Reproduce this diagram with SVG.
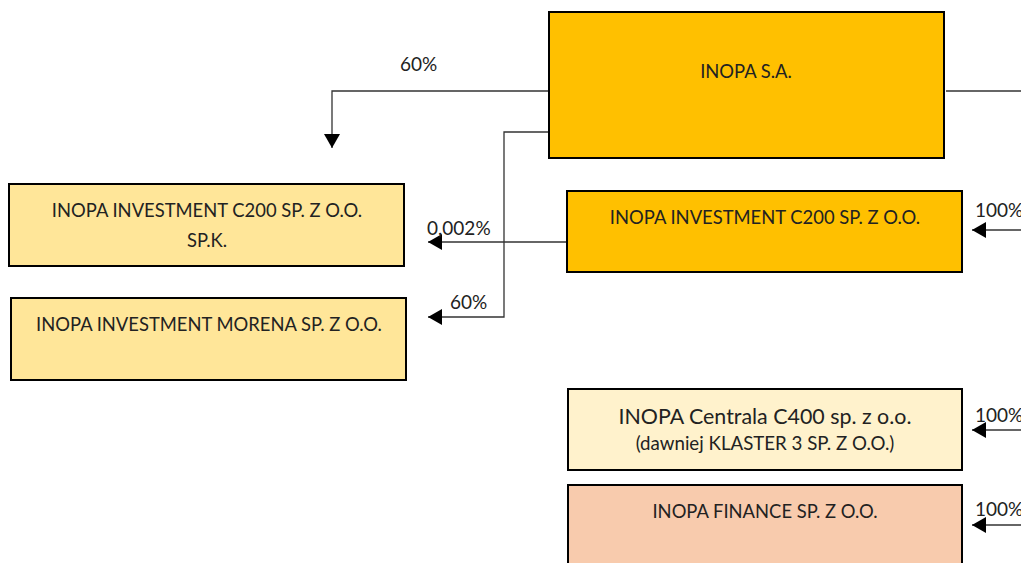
<svg xmlns="http://www.w3.org/2000/svg" width="1021" height="563" viewBox="0 0 1021 563">
<style>
.box{stroke:#000;stroke-width:2}
.t{font-family:Lato,"Open Sans","Liberation Sans",sans-serif;font-size:18.4px;fill:#222;text-anchor:middle}
.l{font-family:Lato,"Open Sans","Liberation Sans",sans-serif;font-size:19px;fill:#222}
.c{fill:none;stroke:#333;stroke-width:1.3}
</style>
<defs>
<marker id="ah" markerWidth="14" markerHeight="16" refX="14" refY="8" orient="auto" markerUnits="userSpaceOnUse">
<path d="M0,0 L14,8 L0,16 Z" fill="#000"/>
</marker>
</defs>
<rect width="1021" height="563" fill="#fff"/>
<g id="connectors">
<path class="c" d="M549,91 H332 V148" marker-end="url(#ah)"/>
<path class="c" d="M549,132 H504 V317 H428" marker-end="url(#ah)"/>
<path class="c" d="M567,242 H428" marker-end="url(#ah)"/>
<path class="c" d="M946,91 H1021"/>
<path class="c" d="M1021,230 H972" marker-end="url(#ah)"/>
<path class="c" d="M1021,430 H972" marker-end="url(#ah)"/>
<path class="c" d="M1021,525 H972" marker-end="url(#ah)"/>
<text class="l" x="400" y="71">60%</text>
<text class="l" x="427" y="235">0,002%</text>
<text class="l" x="450" y="309">60%</text>
<text class="l" x="975" y="217">100%</text>
<text class="l" x="975" y="422">100%</text>
<text class="l" x="975" y="516">100%</text>
</g>
<g id="inopa-sa">
<rect class="box" x="549" y="12" width="395" height="146" fill="#FFC000"/>
<text class="t" x="746" y="78">INOPA S.A.</text>
</g>
<g id="c200-spk">
<rect class="box" x="9" y="184" width="395" height="82" fill="#FFE699"/>
<text class="t" x="207" y="217">INOPA INVESTMENT C200 SP. Z O.O.</text>
<text class="t" x="207" y="247">SP.K.</text>
</g>
<g id="morena">
<rect class="box" x="11" y="298" width="395" height="82" fill="#FFE699"/>
<text class="t" x="209" y="331">INOPA INVESTMENT MORENA SP. Z O.O.</text>
</g>
<g id="c200">
<rect class="box" x="567" y="191" width="395" height="81" fill="#FFC000"/>
<text class="t" x="765" y="224">INOPA INVESTMENT C200 SP. Z O.O.</text>
</g>
<g id="centrala">
<rect class="box" x="568" y="389" width="394" height="81" fill="#FFF2CC"/>
<text class="t" x="765" y="424" style="font-size:21.4px">INOPA Centrala C400 sp. z o.o.</text>
<text class="t" x="765" y="450" style="font-size:18.7px">(dawniej KLASTER 3 SP. Z O.O.)</text>
</g>
<g id="finance">
<rect class="box" x="568" y="485" width="394" height="90" fill="#F8CBAD"/>
<text class="t" x="765" y="518">INOPA FINANCE SP. Z O.O.</text>
</g>
</svg>
